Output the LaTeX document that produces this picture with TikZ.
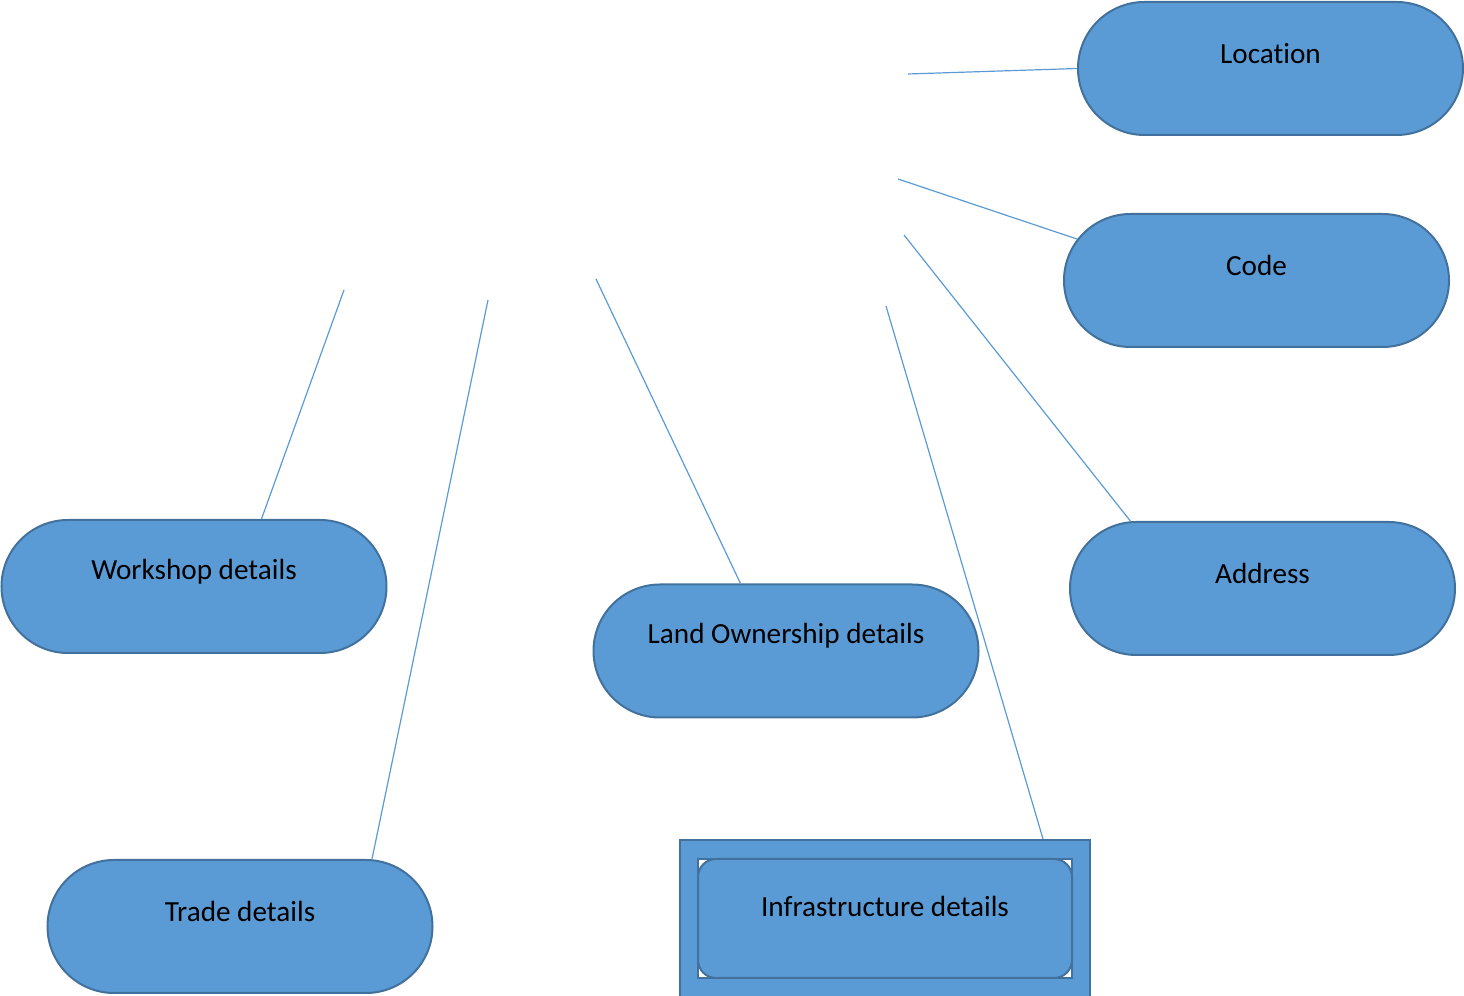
\documentclass[tikz,border=0pt]{standalone}
\usepackage{fontspec}
\setmainfont[Ligatures={NoCommon,NoContextual}]{Carlito}
\usetikzlibrary{shapes.misc}
\definecolor{pillfill}{HTML}{5B9BD5}
\definecolor{pilledge}{HTML}{41719C}
\definecolor{linkblue}{HTML}{5B9BD5}
\begin{document}
\begin{tikzpicture}[x=0.5pt,y=0.5pt,
  pill/.style={rounded rectangle, draw=pilledge, fill=pillfill, line width=1pt,
    minimum width=192.5pt, minimum height=66.5pt, inner sep=0pt},
  pilltext/.style={yshift=7.5pt, font=\fontsize{14.6}{17}\selectfont, text=black, inner sep=0pt},
  framebox/.style={rectangle, draw=pilledge, line width=1pt, inner sep=0pt},
  link/.style={draw=linkblue, line width=0.6pt}]
\useasboundingbox (0,0) rectangle (1464,996);
\clip (0,0) rectangle (1464,996);

% attribute ovals
\node[pill, label={[pilltext]center:Location}] (loc) at (1270.5,927.5) {};
\node[pill, label={[pilltext]center:Code}] (code) at (1256.5,715.5) {};
\node[pill, label={[pilltext]center:Address}] (addr) at (1262.5,407.5) {};
\node[pill, label={[pilltext]center:Workshop details}] (work) at (194,409.5) {};
\node[pill, label={[pilltext]center:Land Ownership details}] (land) at (786,345) {};
\node[pill, label={[pilltext]center:Trade details}] (trade) at (240,69.5) {};

% framed infrastructure entity
\node[framebox, fill=pillfill, minimum width=205pt, minimum height=80pt] (infra) at (885,76) {};
\node[framebox, fill=white, minimum width=187pt, minimum height=59.5pt] (infraframe) at (885,77.5) {};
\node[framebox, fill=pillfill, rounded corners=9pt, minimum width=187pt, minimum height=59.5pt,
  label={[pilltext, yshift=-1.5pt]center:Infrastructure details}] (infrabox) at (885,77.5) {};

% loose ends of the connectors
\coordinate (eloc) at (908,922);
\coordinate (ecode) at (898,817);
\coordinate (eaddr) at (904,761);
\coordinate (einfra) at (886,690);
\coordinate (eland) at (596,717);
\coordinate (etrade) at (488,696);
\coordinate (ework) at (344,706);

\draw[link] (eloc) -- (loc.west);
\draw[link] (ecode) -- (code.167);
\draw[link] (eaddr) -- (addr.153.4);
\draw[link] (einfra) -- ([xshift=79pt]infra.north);
\draw[link] (eland) -- (land.124.3);
\draw[link] (etrade) -- (trade.27);
\draw[link] (ework) -- (work.45.7);
\end{tikzpicture}
\end{document}
